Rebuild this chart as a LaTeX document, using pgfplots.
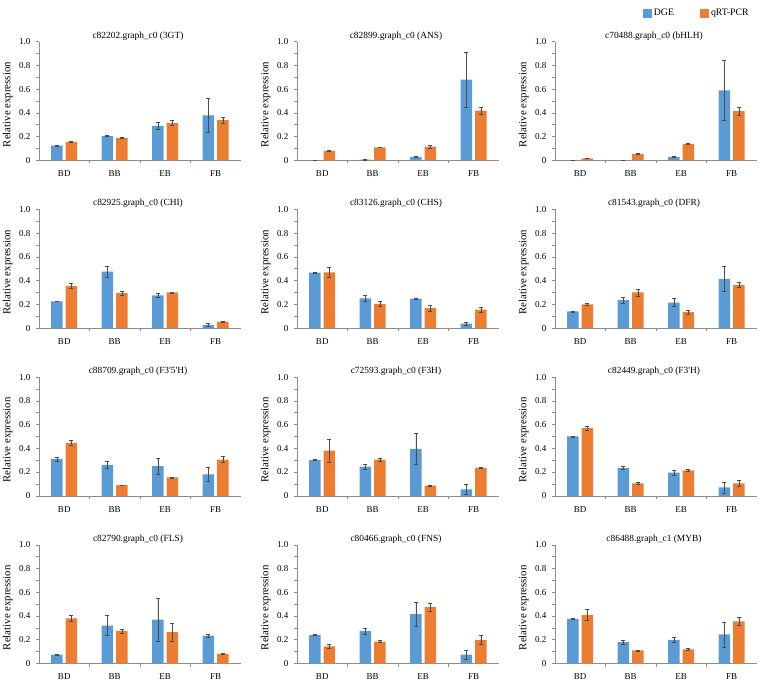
\documentclass[border=0pt]{standalone}
\usepackage{pgfplots}
\pgfplotsset{compat=1.18}
\usepackage{pgfplotstable}
\usepgfplotslibrary{groupplots}
\usepackage{fontspec}
\setmainfont{Liberation Serif}

\definecolor{dge}{HTML}{5B9BD5}
\definecolor{qrt}{HTML}{ED7D31}
\definecolor{axgray}{HTML}{8C8C8C}

% columns: stage, DGE mean, DGE error, qRT-PCR mean, qRT-PCR error
\pgfplotstableread{
x dge dgee qrt qrte
0 0.125 0.006 0.155 0.004
1 0.205 0.003 0.190 0.004
2 0.290 0.030 0.315 0.020
3 0.380 0.140 0.340 0.025
}\tGT
\pgfplotstableread{
x dge dgee qrt qrte
0 0.003 0.000 0.080 0.006
1 0.006 0.001 0.110 0.003
2 0.030 0.004 0.115 0.015
3 0.680 0.230 0.420 0.030
}\tANS
\pgfplotstableread{
x dge dgee qrt qrte
0 0.000 0.000 0.018 0.002
1 0.002 0.000 0.055 0.005
2 0.030 0.004 0.140 0.008
3 0.590 0.250 0.415 0.033
}\tBHLH
\pgfplotstableread{
x dge dgee qrt qrte
0 0.225 0.002 0.355 0.020
1 0.475 0.045 0.295 0.015
2 0.275 0.015 0.300 0.004
3 0.028 0.015 0.055 0.004
}\tCHI
\pgfplotstableread{
x dge dgee qrt qrte
0 0.468 0.003 0.470 0.045
1 0.250 0.025 0.205 0.020
2 0.248 0.004 0.168 0.025
3 0.038 0.015 0.155 0.020
}\tCHS
\pgfplotstableread{
x dge dgee qrt qrte
0 0.140 0.004 0.200 0.010
1 0.235 0.025 0.300 0.030
2 0.215 0.035 0.135 0.015
3 0.415 0.105 0.365 0.020
}\tDFR
\pgfplotstableread{
x dge dgee qrt qrte
0 0.310 0.015 0.445 0.020
1 0.260 0.030 0.090 0.003
2 0.250 0.065 0.155 0.003
3 0.180 0.060 0.305 0.025
}\tFTFH
\pgfplotstableread{
x dge dgee qrt qrte
0 0.300 0.004 0.380 0.095
1 0.245 0.020 0.305 0.010
2 0.395 0.130 0.085 0.004
3 0.055 0.045 0.235 0.003
}\tFTH
\pgfplotstableread{
x dge dgee qrt qrte
0 0.500 0.004 0.570 0.015
1 0.235 0.015 0.105 0.008
2 0.195 0.018 0.215 0.010
3 0.070 0.045 0.105 0.025
}\tFTpH
\pgfplotstableread{
x dge dgee qrt qrte
0 0.075 0.003 0.380 0.025
1 0.320 0.085 0.275 0.017
2 0.370 0.180 0.265 0.075
3 0.235 0.010 0.080 0.003
}\tFLS
\pgfplotstableread{
x dge dgee qrt qrte
0 0.240 0.003 0.145 0.017
1 0.275 0.025 0.185 0.008
2 0.415 0.105 0.475 0.035
3 0.075 0.035 0.200 0.040
}\tFNS
\pgfplotstableread{
x dge dgee qrt qrte
0 0.375 0.003 0.410 0.045
1 0.180 0.015 0.110 0.005
2 0.200 0.020 0.120 0.008
3 0.245 0.105 0.355 0.035
}\tMYB

\pgfplotsset{
  errstyle/.style={
    error bars/.cd, y dir=both, y explicit,
    error bar style={color=black!70, line width=0.5pt},
    error mark options={rotate=90, mark size=2pt, color=black!70, line width=0.5pt}
  }
}

\newcommand{\panel}[2]{%
  \nextgroupplot[title={#1}]
  \addplot[fill=dge, draw=none, errstyle] table[x=x, y=dge, y error=dgee] {#2};
  \addplot[fill=qrt, draw=none, errstyle] table[x=x, y=qrt, y error=qrte] {#2};
}

\begin{document}
\begin{tikzpicture}
\begin{groupplot}[
  group style={group size=3 by 4, horizontal sep=56pt, vertical sep=49pt},
  scale only axis, width=202pt, height=118.7pt,
  ybar=3pt, /pgf/bar width=11.5pt,
  xmin=-0.5, xmax=3.5, ymin=0, ymax=1,
  xtick={0,1,2,3}, xticklabels={BD,BB,EB,FB},
  minor xtick={0.5,1.5,2.5},
  major x tick style={draw=none},
  ytick={0,0.2,0.4,0.6,0.8,1}, yticklabels={0,0.2,0.4,0.6,0.8,1.0},
  minor y tick num=1,
  tick align=outside, major tick length=3pt, minor tick length=3pt,
  axis x line*=bottom, axis y line*=left,
  axis line style={axgray, line width=0.6pt},
  every tick/.style={axgray, line width=0.6pt},
  tick label style={font=\fontsize{9}{10}\selectfont, text=black},
  xticklabel shift=4pt, yticklabel shift=2pt,
  title style={font=\fontsize{9.4}{11}\selectfont, at={(0.49,1)}, anchor=south, yshift=-8pt},
  ylabel={Relative expression},
  ylabel style={font=\fontsize{10.8}{12}\selectfont, at={(axis description cs:-0.154,0.47)}, anchor=center},
  /pgf/number format/assume math mode=true,
  legend image code/.code={\fill[#1] (0pt,-4.5pt) rectangle (9pt,4.5pt);},
]
\panel{c82202.graph\_c0 (3GT)}{\tGT}
\panel{c82899.graph\_c0 (ANS)}{\tANS}
\nextgroupplot[title={c70488.graph\_c0 (bHLH)},
  legend columns=2,
  legend style={at={(axis description cs:0.434,1.241)}, anchor=west, draw=none, fill=none,
    font=\fontsize{9.8}{11}\selectfont, inner sep=0pt,
    /tikz/every even column/.append style={column sep=24pt}}]
\addplot[fill=dge, draw=none, errstyle] table[x=x, y=dge, y error=dgee] {\tBHLH};
\addplot[fill=qrt, draw=none, errstyle] table[x=x, y=qrt, y error=qrte] {\tBHLH};
\legend{DGE,qRT-PCR}
\panel{c82925.graph\_c0 (CHI)}{\tCHI}
\panel{c83126.graph\_c0 (CHS)}{\tCHS}
\panel{c81543.graph\_c0 (DFR)}{\tDFR}
\panel{c88709.graph\_c0 (F3\textquotesingle5\textquotesingle H)}{\tFTFH}
\panel{c72593.graph\_c0 (F3H)}{\tFTH}
\panel{c82449.graph\_c0 (F3\textquotesingle H)}{\tFTpH}
\panel{c82790.graph\_c0 (FLS)}{\tFLS}
\panel{c80466.graph\_c0 (FNS)}{\tFNS}
\panel{c86488.graph\_c1 (MYB)}{\tMYB}
\end{groupplot}
\pgfresetboundingbox
\path ([xshift=-39pt, yshift=41.7pt]group c1r1.north west) rectangle ++(760pt,-682pt);
\end{tikzpicture}
\end{document}
